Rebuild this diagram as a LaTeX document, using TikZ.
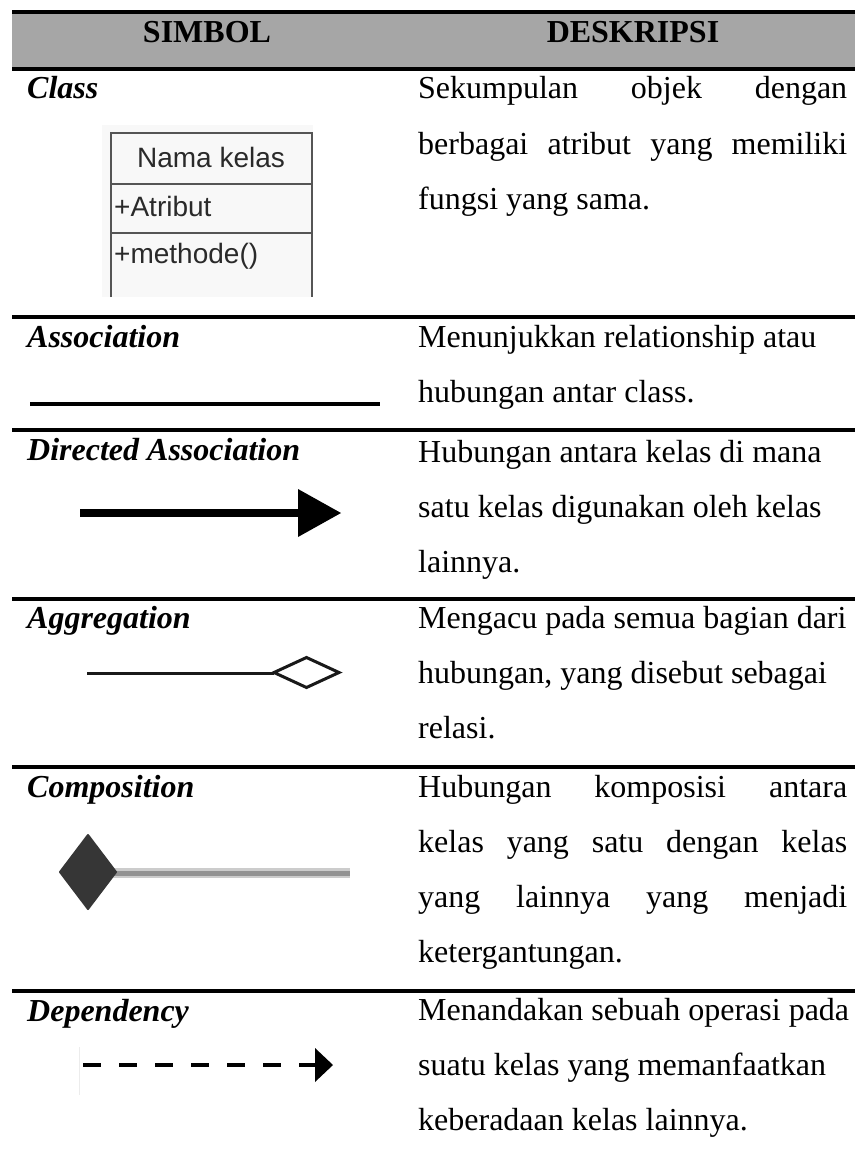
\documentclass[tikz,border=0pt]{standalone}
\usepackage{fontspec}
\setmainfont{Liberation Serif}
\newfontfamily\boxfont{Liberation Sans}
\definecolor{headgray}{HTML}{A6A6A6}
\definecolor{boxbg}{HTML}{F8F8F8}
\definecolor{boxline}{HTML}{555555}
\definecolor{boxtext}{HTML}{2A2A2A}
\definecolor{compdark}{HTML}{363636}
\begin{document}
\begin{tikzpicture}[x=1pt,y=-1pt,
  rule/.style={line width=3.8pt,black},
  head/.style={anchor=base,inner sep=0pt,font=\fontsize{32}{38}\selectfont\bfseries},
  lbl/.style={anchor=base west,inner sep=0pt,font=\fontsize{32}{38}\selectfont\bfseries\itshape},
  desc/.style={anchor=base west,inner sep=0pt,font=\fontsize{32}{38}\selectfont},
  boxtxt/.style={inner sep=0pt,text=boxtext,font=\fontsize{28}{32}\selectfont\boxfont},
  boxln/.style={line width=2pt,boxline}]
\useasboundingbox (0,0) rectangle (855,1153);
% header
\fill[headgray] (12,12) rectangle (855,69);
\draw[rule] (12,12) -- (855,12);
\draw[rule] (12,69) -- (855,69);
\node[head] (hsim) at (207,43) {SIMBOL};
\node[head] (hdes) at (633,43) {DESKRIPSI};
% row separators
\foreach \yy in {317,430,599,767,991} \draw[rule] (12,\yy) -- (855,\yy);
\newcommand{\jline}[1]{\makebox[429pt][s]{#1}}
% Class
\node[lbl] (lclass) at (27,99) {Class};
\fill[boxbg] (102,125) rectangle (313,297);
\draw[boxln] (111,297) -- (111,133) -- (312,133) -- (312,297);
\draw[boxln] (111,184) -- (312,184);
\draw[boxln] (111,233) -- (312,233);
\node[boxtxt,anchor=base] (cname) at (211,167) {Nama kelas};
\node[boxtxt,anchor=base west] (cattr) at (114,216) {+Atribut};
\node[boxtxt,anchor=base west] (cmeth) at (114,263) {+methode()};
\node[desc] (dc1) at (418,99) {\jline{Sekumpulan objek dengan}};
\node[desc] (dc2) at (418,154) {\jline{berbagai atribut yang memiliki}};
\node[desc] (dc3) at (418,209) {fungsi yang sama.};
% Association
\node[lbl] (lassoc) at (27,347) {Association};
\coordinate (a1) at (30,404);
\coordinate (a2) at (380,404);
\draw[line width=4.5pt] (a1) -- (a2);
\node[desc] (da1) at (418,347) {Menunjukkan relationship atau};
\node[desc] (da2) at (418,402) {hubungan antar class.};
% Directed Association
\node[lbl] (ldir) at (27,460) {Directed Association};
\coordinate (r1) at (80,513);
\coordinate (r2) at (300,513);
\draw[line width=8.5pt] (r1) -- (r2);
\fill (298,489) -- (341,513) -- (298,537) -- cycle;
\node[desc] (dd1) at (418,462) {Hubungan antara kelas di mana};
\node[desc] (dd2) at (418,517) {satu kelas digunakan oleh kelas};
\node[desc] (dd3) at (418,572) {lainnya.};
% Aggregation
\node[lbl] (lagg) at (27,628) {Aggregation};
\coordinate (g1) at (87,673);
\coordinate (g2) at (274,673);
\draw[line width=3pt,black!90] (g1) -- (g2);
\draw[line width=3pt,black!90,line join=miter] (274,672.5) -- (306.5,657.5) -- (339,672.5) -- (306.5,687.5) -- cycle;
\node[desc] (dg1) at (418,628) {Mengacu pada semua bagian dari};
\node[desc] (dg2) at (418,683) {hubungan, yang disebut sebagai};
\node[desc] (dg3) at (418,738) {relasi.};
% Composition
\node[lbl] (lcomp) at (27,797) {Composition};
\coordinate (c1) at (112,873);
\coordinate (c2) at (350,873);
\draw[line width=10pt,gray!40] (c1) -- (c2);
\draw[line width=5pt,gray!85] (c1) -- (c2);
\draw[line width=2pt,compdark,fill=compdark,line join=round] (88,835) -- (116,872) -- (88,909) -- (60,872) -- cycle;
\node[desc] (dm1) at (418,797) {\jline{Hubungan komposisi antara}};
\node[desc] (dm2) at (418,852) {\jline{kelas yang satu dengan kelas}};
\node[desc] (dm3) at (418,907) {\jline{yang lainnya yang menjadi}};
\node[desc] (dm4) at (418,962) {ketergantungan.};
% Dependency
\node[lbl] (ldep) at (27,1021) {Dependency};
\draw[line width=0.8pt,gray!15] (79,1047) -- (79,1095);
\coordinate (p1) at (83,1065);
\coordinate (p2) at (316,1065);
\draw[line width=4.5pt,dash pattern=on 18pt off 18pt] (p1) -- (p2);
\fill (315,1048) -- (333,1065) -- (315,1082) -- cycle;
\node[desc] (dp1) at (418,1020) {Menandakan sebuah operasi pada};
\node[desc] (dp2) at (418,1075) {suatu kelas yang memanfaatkan};
\node[desc] (dp3) at (418,1130) {keberadaan kelas lainnya.};
\end{tikzpicture}
\end{document}
